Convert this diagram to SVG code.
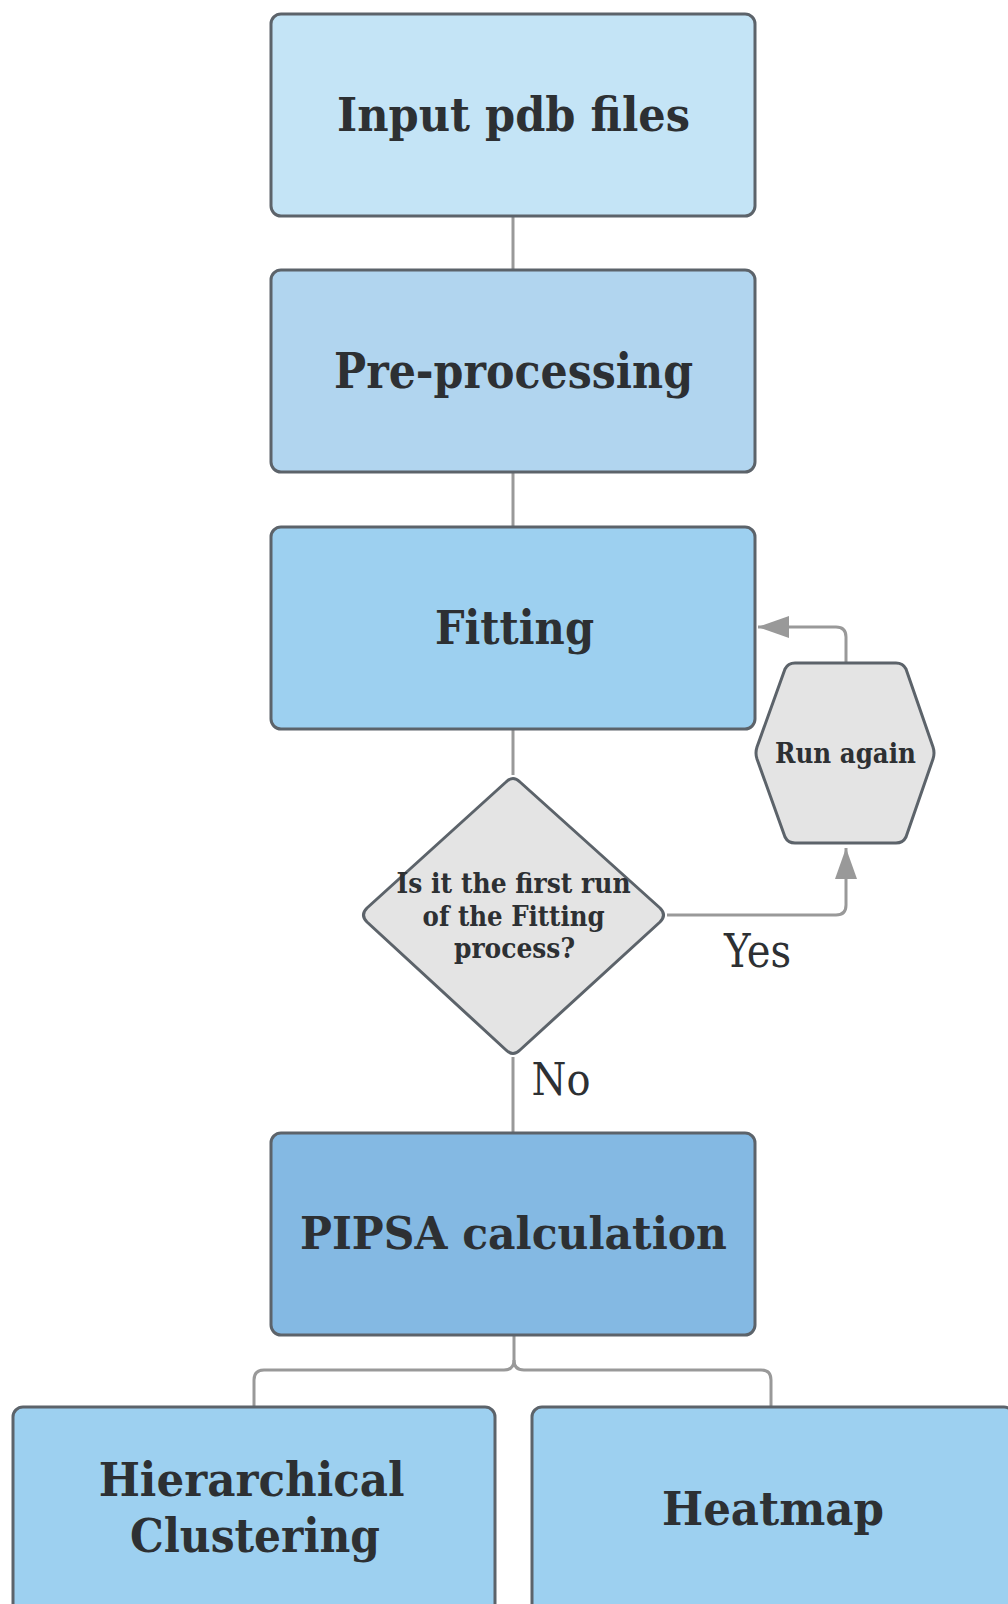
<svg xmlns="http://www.w3.org/2000/svg" width="1008" height="1604" viewBox="0 0 1008 1604">
<style>
.box{stroke:#5c636a;stroke-width:3}
.shape{fill:#e4e4e4;stroke:#5c636a;stroke-width:3;stroke-linejoin:round}
.lbl{font-family:"DejaVu Serif","Liberation Serif",serif;font-weight:bold;fill:#2d3033;text-anchor:middle;font-stretch:condensed}
.edge{font-family:"DejaVu Serif","Liberation Serif",serif;fill:#2d3033;text-anchor:middle;font-stretch:condensed}
.conn{fill:none;stroke:#999;stroke-width:3}
</style>
<defs>
<marker id="arr" markerUnits="userSpaceOnUse" markerWidth="32" markerHeight="22" refX="31" refY="11" orient="auto">
<path d="M0,0 L31,11 L0,22 z" fill="#999"/>
</marker>
</defs>
<rect width="1008" height="1604" fill="#fff"/>
<g id="connectors">
<path class="conn" d="M513,216 V270"/>
<path class="conn" d="M513,472 V527"/>
<path class="conn" d="M513,729 V775"/>
<path class="conn" d="M513,1057 V1133"/>
<path class="conn" d="M667,915 H836 Q846,915 846,905 V848" marker-end="url(#arr)"/>
<path class="conn" d="M846,663 V637 Q846,627 836,627 H758" marker-end="url(#arr)"/>
<path class="conn" d="M514,1335 V1360 Q514,1370 504,1370 H264 Q254,1370 254,1380 V1407"/>
<path class="conn" d="M514,1360 Q514,1370 524,1370 H761 Q771,1370 771,1380 V1407"/>
<text class="edge" x="757.5" y="967" font-size="47" textLength="67" lengthAdjust="spacingAndGlyphs">Yes</text>
<text class="edge" x="561" y="1095" font-size="45" textLength="59" lengthAdjust="spacingAndGlyphs">No</text>
</g>
<g id="input">
<rect class="box" x="271" y="14" width="484" height="202" rx="10" fill="#c4e4f6"/>
<text class="lbl" x="513.5" y="131" font-size="46" textLength="353" lengthAdjust="spacingAndGlyphs">Input pdb files</text>
</g>
<g id="preprocessing">
<rect class="box" x="271" y="270" width="484" height="202" rx="10" fill="#b1d5ef"/>
<text class="lbl" x="513.5" y="388" font-size="48" textLength="359" lengthAdjust="spacingAndGlyphs">Pre-processing</text>
</g>
<g id="fitting">
<rect class="box" x="271" y="527" width="484" height="202" rx="10" fill="#9dd0f0"/>
<text class="lbl" x="514.5" y="644" font-size="47" textLength="159" lengthAdjust="spacingAndGlyphs">Fitting</text>
</g>
<g id="decision">
<path class="shape" d="M506,782 Q513,775 520,782 L660,908 Q667,915 660,922 L520,1050 Q513,1057 506,1050 L367,922 Q360,915 367,908 Z"/>
<text class="lbl" font-size="28">
<tspan x="518" y="893" textLength="234" lengthAdjust="spacingAndGlyphs">Is it the first run</tspan>
<tspan x="518" y="926" textLength="182" lengthAdjust="spacingAndGlyphs">of the Fitting</tspan>
<tspan x="514.5" y="958" textLength="121" lengthAdjust="spacingAndGlyphs">process?</tspan>
</text>
</g>
<g id="run-again">
<path class="shape" d="M795,663 H896 Q903,663 906,669 L933,747 Q935,753 933,759 L906,837 Q903,843 896,843 H795 Q788,843 785,837 L757,759 Q755,753 757,747 L785,669 Q788,663 795,663 Z"/>
<text class="lbl" x="845.5" y="763" font-size="27" textLength="141" lengthAdjust="spacingAndGlyphs">Run again</text>
</g>
<g id="pipsa">
<rect class="box" x="271" y="1133" width="484" height="202" rx="10" fill="#84b9e3"/>
<text class="lbl" x="513.5" y="1249" font-size="45" textLength="427" lengthAdjust="spacingAndGlyphs">PIPSA calculation</text>
</g>
<g id="clustering">
<rect class="box" x="13" y="1407" width="482" height="230" rx="10" fill="#9dd0f0"/>
<text class="lbl" font-size="47">
<tspan x="259" y="1496" textLength="306" lengthAdjust="spacingAndGlyphs">Hierarchical</tspan>
<tspan x="255" y="1552" textLength="250" lengthAdjust="spacingAndGlyphs">Clustering</tspan>
</text>
</g>
<g id="heatmap">
<rect class="box" x="532" y="1407" width="482" height="230" rx="10" fill="#9dd0f0"/>
<text class="lbl" x="773" y="1525" font-size="47" textLength="222" lengthAdjust="spacingAndGlyphs">Heatmap</text>
</g>
</svg>
